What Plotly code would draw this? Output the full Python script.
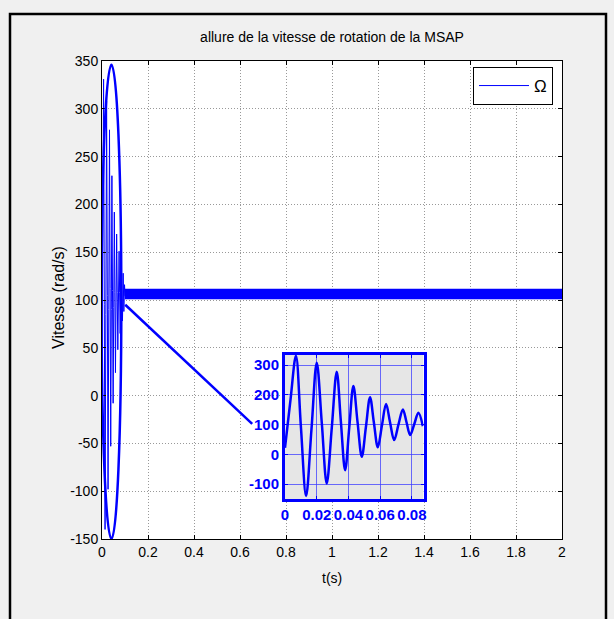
import plotly.graph_objects as go

# ---------------- data ----------------
# transient of the speed (s, rad/s) - zoomed portion
t_zoom = [0.0, 0.0035, 0.0069, 0.0100, 0.0133, 0.0167, 0.0200, 0.0232, 0.0263, 0.0295,
          0.0326, 0.0352, 0.0379, 0.0405, 0.0431, 0.0457, 0.0484, 0.0510, 0.0536, 0.0560,
          0.0585, 0.0611, 0.0637, 0.0662, 0.0688, 0.0715, 0.0743, 0.0766, 0.0789, 0.0815,
          0.0841, 0.0869]
w_zoom = [22, 185, 331, 95, -140, 85, 308, 105, -98, 90,
          278, 112, -53, 90, 230, 110, -8, 92, 192, 108,
          24, 97, 169, 108, 48, 100, 151, 108, 65, 102,
          140, 95]
# end of transient before steady state
t_tail = [0.089, 0.092, 0.095, 0.098, 0.100]
w_tail = [78, 128, 88, 116, 104]
# steady-state ripple envelope
t_steady = [0.100, 2.0]
w_low = [101, 101]
w_high = [111.5, 111.5]

x_ticks = [0, 0.2, 0.4, 0.6, 0.8, 1.0, 1.2, 1.4, 1.6, 1.8, 2.0]
y_ticks = [-150, -100, -50, 0, 50, 100, 150, 200, 250, 300, 350]
xz_ticks = [0, 0.02, 0.04, 0.06, 0.08]
yz_ticks = [-100, 0, 100, 200, 300]

BLUE = "#0000ff"
FONT = "Arial, Liberation Sans, sans-serif"

fig = go.Figure()

# main curve
fig.add_trace(go.Scatter(x=t_zoom + t_tail, y=w_zoom + w_tail, mode="lines",
                         line=dict(color=BLUE, width=1), name="Ω", showlegend=True,
                         xaxis="x", yaxis="y"))
fig.add_trace(go.Scatter(x=t_steady, y=w_low, mode="lines", line=dict(color=BLUE, width=0.5),
                         showlegend=False, xaxis="x", yaxis="y"))
fig.add_trace(go.Scatter(x=t_steady, y=w_high, mode="lines", line=dict(color=BLUE, width=0.5),
                         fill="tonexty", fillcolor=BLUE, showlegend=False, xaxis="x", yaxis="y"))

# inset curve
fig.add_trace(go.Scatter(x=t_zoom, y=w_zoom, mode="lines",
                         line=dict(color=BLUE, width=2.5, shape="spline", smoothing=1.0),
                         showlegend=False, xaxis="x2", yaxis="y2"))

L, R, T, B = 102, 52, 61, 80
W, H = 614, 619
PW, PH = W - L - R, H - T - B


def px(xp):
    return (xp - L) / PW


def py(yp):
    return (H - B - yp) / PH


def lab(v):
    return ("%g" % v)


grid = dict(showgrid=True, gridcolor="rgba(0,0,0,0.4)", griddash="1px,2px", gridwidth=1)

fig.update_layout(
    width=W, height=H,
    margin=dict(l=L, r=R, t=T, b=B),
    paper_bgcolor="#f0f0f0",
    plot_bgcolor="white",
    font=dict(family=FONT, size=14, color="black"),
    title=dict(text="allure de la vitesse de rotation de la MSAP", x=0.5, xref="paper",
               xanchor="center", y=1 - 37 / H, yref="container", yanchor="middle",
               font=dict(size=14, family=FONT, color="black")),
    xaxis=dict(range=[0, 2], tickvals=x_ticks, ticktext=[lab(v) for v in x_ticks],
               ticks="inside", ticklen=4, tickcolor="black", showline=True, linecolor="black",
               linewidth=1, mirror="ticks", zeroline=False, domain=[0, 1], anchor="y",
               tickfont=dict(size=14), **grid),
    yaxis=dict(range=[-150, 350], tickvals=y_ticks, ticktext=[lab(v) for v in y_ticks],
               ticks="inside", ticklen=4,
               tickcolor="black", showline=True, linecolor="black", linewidth=1,
               mirror="ticks", zeroline=False, domain=[0, 1], anchor="x",
               tickfont=dict(size=14), **grid),
    xaxis2=dict(range=[0, 0.0873], tickvals=xz_ticks, ticktext=[lab(v) for v in xz_ticks],
                domain=[px(285), px(423.5)], anchor="y2", ticks="inside", ticklen=3,
                tickcolor=BLUE, showline=True, linecolor=BLUE, linewidth=3, mirror="ticks",
                zeroline=False, showgrid=True, gridcolor="rgba(60,60,255,0.75)", gridwidth=1,
                tickfont=dict(size=15, color=BLUE, weight="bold")),
    yaxis2=dict(range=[-150, 334], tickvals=yz_ticks, ticktext=[lab(v) for v in yz_ticks],
                domain=[py(499), py(355)], anchor="x2",
                ticks="inside", ticklen=3, tickcolor=BLUE, showline=True, linecolor=BLUE,
                linewidth=3, mirror="ticks", zeroline=False, showgrid=True,
                gridcolor="rgba(60,60,255,0.75)", gridwidth=1,
                tickfont=dict(size=15, color=BLUE, weight="bold")),
    legend=dict(x=px(553), xanchor="right", y=py(67), yanchor="top", bgcolor="white",
                bordercolor="black", borderwidth=1, itemwidth=50,
                font=dict(size=17, family=FONT)),
    showlegend=True,
)

shapes = [
    # inset background
    dict(type="rect", xref="x2", yref="y2", x0=0, x1=0.0873, y0=-150, y1=334,
         fillcolor="#e6e6e6", line=dict(width=0), layer="below"),
    # ellipse around transient
    dict(type="circle", xref="x", yref="y", x0=-0.002, x1=0.084, y0=-150, y1=346,
         line=dict(color=BLUE, width=2.5), layer="above"),
    # connector line
    dict(type="line", xref="x", yref="y", x0=0.101, y0=95, x1=0.653, y1=-29.5,
         line=dict(color=BLUE, width=2.5), layer="above"),
    # figure frame
    dict(type="rect", xref="paper", yref="paper", x0=px(10), x1=px(606), y0=py(640), y1=py(14),
         line=dict(color="black", width=2.5), fillcolor="rgba(0,0,0,0)", layer="above"),
]
fig.update_layout(shapes=shapes)

fig.add_annotation(text="t(s)", xref="paper", yref="paper", x=0.5, y=py(578),
                   xanchor="center", yanchor="middle", showarrow=False,
                   font=dict(size=14, family=FONT))
fig.add_annotation(text="Vitesse (rad/s)", xref="paper", yref="paper", x=px(58), y=py(298),
                   xanchor="center", yanchor="middle", showarrow=False, textangle=-90,
                   font=dict(size=16, family=FONT))

fig.write_html("out.html")
